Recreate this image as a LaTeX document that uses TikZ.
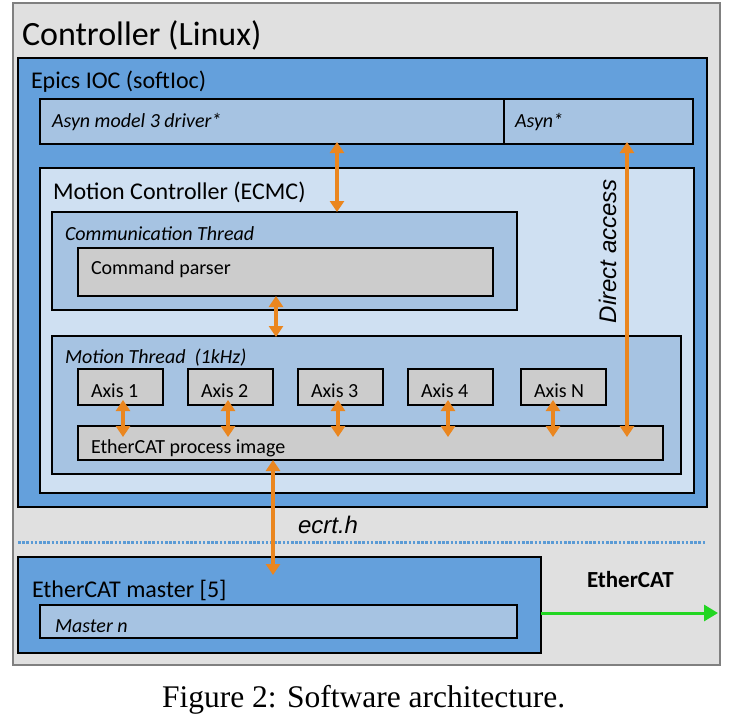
\documentclass[tikz,border=0pt]{standalone}
\usepackage{fontspec}
\setmainfont{Carlito}
\newfontfamily\arialf{Liberation Sans}
\newfontfamily\timesf{Liberation Serif}
\usetikzlibrary{arrows.meta,calc}
\definecolor{outergray}{HTML}{E0E0E0}
\definecolor{outerline}{HTML}{808080}
\definecolor{epicsblue}{HTML}{64A0DC}
\definecolor{midblue}{HTML}{A6C3E2}
\definecolor{paleblue}{HTML}{CFE0F2}
\definecolor{boxgray}{HTML}{CCCCCC}
\definecolor{arrorange}{HTML}{EA861F}
\definecolor{arrgreen}{HTML}{22D622}
\definecolor{dotblue}{HTML}{5B9BD5}
\tikzset{
  box/.style={draw=black, line width=1.8pt, inner sep=0pt, outer sep=0pt, anchor=north west},
  lbl/.style={inner sep=0pt, outer sep=0pt, anchor=base west, text=black},
  oarr/.style={draw=arrorange, line width=3.2pt, {Triangle[width=14pt,length=11pt]}-{Triangle[width=14pt,length=11pt]}},
  garr/.style={draw=arrgreen, line width=3pt, -{Triangle[width=16pt,length=14pt]}},
}
\newcommand{\fbig}{\fontsize{34}{40}\selectfont}
\newcommand{\fmid}{\fontsize{24}{28}\selectfont}
\newcommand{\fsmall}{\fontsize{20}{24}\selectfont}
\begin{document}
\begin{tikzpicture}[x=1pt,y=-1pt]
\useasboundingbox (0,0) rectangle (735,723);
\fill[white] (0,0) rectangle (735,723);
% outer
\node[box, draw=outerline, fill=outergray, line width=2pt, minimum width=707pt, minimum height=662pt] (outer) at (13,3) {};
\node[lbl] (title) at (22,45) {\fbig Controller (Linux)};
% epics
\node[box, fill=epicsblue, minimum width=689pt, minimum height=449pt] (epics) at (18,58) {};
\node[lbl] (epicst) at (31,88) {\fmid Epics IOC (softIoc)};
\node[box, fill=midblue, minimum width=464pt, minimum height=45pt] (asyndrv) at (40,99) {};
\node[box, fill=midblue, minimum width=189pt, minimum height=45pt] (asyn) at (504,99) {};
\node[lbl] (asyndrvt) at (52,127) {\fsmall\itshape Asyn model 3 driver*};
\node[lbl] (asynt) at (515,127) {\fsmall\itshape Asyn*};
% motion controller
\node[box, fill=paleblue, minimum width=654pt, minimum height=325pt] (mc) at (40,168) {};
\node[lbl] (mct) at (53,199) {\fmid Motion Controller (ECMC)};
\node[box, fill=midblue, minimum width=465pt, minimum height=98pt] (comm) at (52,212) {};
\node[lbl] (commt) at (65,240) {\fsmall\itshape Communication Thread};
\node[box, fill=boxgray, minimum width=415pt, minimum height=48pt] (cp) at (78,248) {};
\node[lbl] (cpt) at (91,274) {\fsmall Command parser};
\node[box, fill=midblue, minimum width=629pt, minimum height=138pt] (mt) at (52,336) {};
\node[lbl] (mtt) at (65,363) {\fsmall\itshape Motion Thread\ \ (1kHz)};
\foreach \n/\x/\t in {ax1/78/Axis 1, ax2/188/Axis 2, ax3/298/Axis 3, ax4/408/Axis 4, axn/521/Axis N}{
  \node[box, fill=boxgray, minimum width=85pt, minimum height=36pt] (\n) at (\x,369) {};
  \node[lbl] (\n t) at (\x+13,397) {\fsmall \t};
}
\node[box, fill=boxgray, minimum width=585pt, minimum height=34pt] (pi) at (78,426) {};
\node[lbl] (pit) at (91,453) {\fsmall EtherCAT process image};
% master
\node[box, fill=epicsblue, minimum width=523pt, minimum height=96pt] (master) at (18,557) {};
\node[lbl] (mastert) at (32,597) {\fmid EtherCAT master [5]};
\node[box, fill=midblue, minimum width=477pt, minimum height=33pt] (mastern) at (40,605) {};
\node[lbl] (masternt) at (55,632) {\fsmall\itshape Master n};
% dotted line
\coordinate (dl) at (18,542);
\coordinate (dr) at (705,542);
\draw[dotblue, line width=3pt, dash pattern=on 2.6pt off 1.6pt] (dl) -- (dr);
\node[lbl] (ecrt) at (298,533) {\arialf\fmid\itshape ecrt.h};
% labels
\node[lbl] (ecat) at (587,587) {\fontsize{23}{28}\selectfont\bfseries EtherCAT};
\node[lbl, rotate=90] (direct) at (616,323) {\arialf\fmid\itshape Direct access};
% arrows
\coordinate (c1) at (337,0);
\coordinate (c2) at (276,0);
\coordinate (c3) at (627,0);
\coordinate (c4) at (273,0);
\draw[oarr] ($(asyndrv.south -| c1)+(0,-2)$) -- (comm.north -| c1);
\draw[oarr] (cp.south -| c2) -- ($(mt.north -| c2)+(0,1)$);
\draw[oarr] ($(asyn.south -| c3)+(0,-2)$) -- ($(pi.north -| c3)+(0,11)$);
\foreach \n/\x in {ax1/123, ax2/228, ax3/338, ax4/448, axn/553}{
  \coordinate (k\n) at (\x,0);
  \draw[oarr] ($(\n.south -| k\n)+(0,-5)$) -- ($(pi.north -| k\n)+(0,11)$);
}
\draw[oarr] (pi.south -| c4) -- ($(master.north -| c4)+(0,18)$);
\coordinate (gend) at (718,613);
\draw[garr] (master.east |- gend) -- (gend);
% caption
\node[lbl] (cap) at (162,707) {\timesf\fontsize{31.5}{36}\selectfont Figure 2: Software architecture.};
\end{tikzpicture}
\end{document}
